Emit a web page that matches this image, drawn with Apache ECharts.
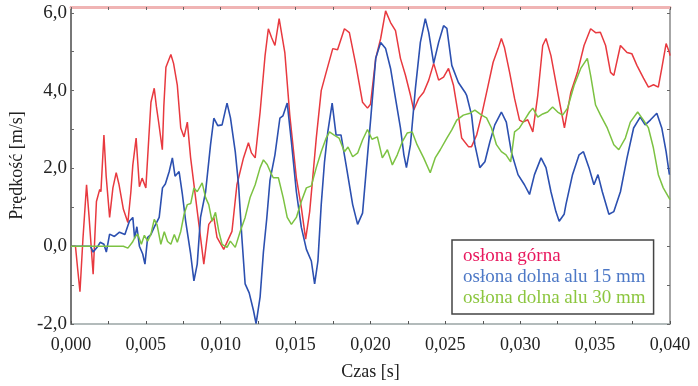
<!DOCTYPE html>
<html>
<head>
<meta charset="utf-8">
<script src="https://cdn.jsdelivr.net/npm/echarts@6/dist/echarts.min.js"></script>
<style>
html, body { margin: 0; padding: 0; background: #fff; }
#main { width: 698px; height: 386px; }
</style>
</head>
<body>
<div id="main"></div>
<script>
// czas w ms, prędkość w m/s
var gornaData = [
	[0,0],[0.3,0],[0.45,-0.6],[0.6,-1.17],[0.8,0.2],[1.04,1.58],[1.2,0.8],[1.48,-0.72],[1.6,0.3],[1.7,1.15],
	[1.92,1.46],[2.0,1.4],[2.2,2.86],[2.35,1.8],[2.58,0.74],[2.8,1.5],[3.02,1.89],[3.2,1.6],[3.5,0.95],[3.8,0.61],
	[4.0,1.4],[4.13,2.09],[4.35,2.78],[4.57,1.53],[4.75,1.75],[5.0,1.5],[5.2,2.8],[5.34,3.7],[5.56,4.06],[5.7,3.6],
	[5.85,3.2],[6.1,2.48],[6.2,3.6],[6.34,4.6],[6.67,4.93],[6.85,4.7],[7.1,4.14],[7.33,3.04],[7.55,2.81],[7.77,3.19],
	[7.99,2.27],[8.32,1.25],[8.65,0.23],[8.87,-0.46],[9.2,0.56],[9.54,0.74],[9.75,0.23],[10.2,-0.08],[10.75,0.38],[11.08,1.58],
	[11.52,2.27],[11.85,2.66],[12.05,2.4],[12.3,2.27],[12.63,3.45],[12.96,4.9],[13.18,5.59],[13.4,5.36],[13.62,5.16],[13.9,5.85],
	[14.28,4.98],[14.61,3.37],[15.05,1.76],[15.38,1.0],[15.67,0.18],[15.94,0.89],[16.38,2.78],[16.71,4.0],[17.04,4.47],[17.48,5.08],
	[17.8,5.05],[18.26,5.59],[18.59,5.49],[19.03,4.65],[19.47,3.7],[19.8,3.55],[20.0,3.65],[20.35,4.83],[20.68,5.34],[21.01,6.05],
	[21.34,5.75],[21.67,5.54],[22.0,4.83],[22.34,4.39],[22.67,3.88],[22.89,3.5],[23.22,3.8],[23.55,3.96],[23.89,4.27],[24.22,4.7],
	[24.55,4.27],[24.88,4.35],[25.21,4.57],[25.54,4.14],[25.87,3.37],[26.09,2.78],[26.54,2.56],[26.75,2.56],[27.09,2.86],[27.42,3.37],
	[27.86,4.14],[28.19,4.73],[28.52,5.08],[28.74,5.34],[28.95,5.1],[29.29,4.47],[29.62,3.8],[29.95,3.24],[30.18,3.19],[30.5,3.25],
	[30.84,2.94],[31.17,3.88],[31.5,5.16],[31.72,5.34],[32.05,4.9],[32.5,3.96],[32.83,3.29],[32.95,3.04],[33.38,3.96],[33.82,4.47],
	[34.26,5.16],[34.7,5.59],[35.03,5.49],[35.35,5.5],[35.7,5.16],[36.03,4.47],[36.25,4.39],[36.69,5.16],[37.13,4.98],[37.45,4.95],
	[37.79,4.65],[38.23,4.32],[38.56,4.09],[38.9,4.15],[39.22,4.09],[39.45,4.57],[39.74,5.21],[39.96,4.98],[40,4.9]
];

var dolna15Data = [
	[0,0],[1.3,0],[1.48,-0.15],[1.8,0],[1.95,0.1],[2.2,0.05],[2.36,-0.15],[2.58,0.31],[2.9,0.25],[3.24,0.36],
	[3.6,0.3],[3.9,0.64],[4.13,0.74],[4.25,0.2],[4.4,0.5],[4.57,0],[4.79,-0.2],[4.94,-0.46],[5.12,0.23],[5.34,0.3],
	[5.56,0.49],[5.89,0.74],[6.11,1.5],[6.3,1.6],[6.56,1.92],[6.77,2.27],[6.95,1.8],[7.22,1.92],[7.44,1.33],[7.66,0.64],
	[7.99,-0.2],[8.21,-0.89],[8.43,-0.46],[8.65,0.74],[8.99,1.4],[9.32,2.61],[9.54,3.29],[9.8,3.1],[10.09,3.12],[10.42,3.68],
	[10.65,3.3],[10.97,2.43],[11.19,1.58],[11.41,0.23],[11.63,-0.97],[11.9,-1.2],[12.19,-1.66],[12.36,-1.99],[12.63,-1.3],[12.85,-0.15],
	[13.07,0.7],[13.29,1.7],[13.62,2.35],[13.95,3.29],[14.15,3.35],[14.44,3.68],[14.72,2.68],[15.05,1.4],[15.38,0.49],[15.72,-0.08],
	[16.05,-0.38],[16.27,-0.97],[16.49,-0.38],[16.71,1.07],[16.93,2.17],[17.15,2.94],[17.44,3.68],[17.7,2.86],[18.03,2.86],[18.37,2.09],
	[18.81,1.07],[19.14,0.56],[19.47,0.85],[19.69,1.84],[20.02,3.3],[20.35,4.83],[20.68,5.24],[21.01,5.08],[21.34,4.57],[21.67,3.8],
	[22.0,3.04],[22.23,2.35],[22.4,2.02],[22.67,2.61],[23.0,4.06],[23.33,5.24],[23.66,5.85],[23.89,5.49],[24.22,4.7],[24.55,5.24],
	[24.88,5.67],[25.1,5.6],[25.43,4.65],[25.87,4.21],[26.31,3.96],[26.42,3.88],[26.75,3.37],[26.97,2.61],[27.3,2.02],[27.64,2.17],
	[27.97,2.68],[28.3,3.12],[28.74,3.45],[29.07,3.19],[29.4,2.43],[29.85,1.84],[30.28,1.58],[30.62,1.33],[30.95,1.84],[31.39,2.27],
	[31.72,2.02],[32.05,1.4],[32.38,0.89],[32.6,0.64],[32.93,0.82],[33.05,1.07],[33.49,1.84],[33.93,2.35],[34.22,2.43],[34.59,2.02],
	[34.92,1.58],[35.19,1.84],[35.48,1.4],[35.92,0.82],[36.25,0.89],[36.69,1.4],[37.13,2.27],[37.57,3.04],[38.01,3.32],[38.34,3.12],
	[38.7,3.25],[39.12,3.42],[39.45,3.04],[39.74,2.43],[39.96,1.84]
];

var dolna30Data = [
	[0,0],[3.5,0],[3.8,-0.05],[4.1,0.1],[4.3,0.25],[4.46,0.31],[4.7,0.05],[4.9,0.28],[5.12,0.13],[5.34,0.31],
	[5.56,0.69],[5.75,0.55],[6.0,0.05],[6.23,0.37],[6.45,0.12],[6.67,0.05],[6.9,0.3],[7.1,0.1],[7.33,0.38],[7.55,0.82],
	[7.77,1.07],[8.0,1.1],[8.21,1.5],[8.43,1.4],[8.76,1.63],[8.99,1.25],[9.2,1.07],[9.42,0.64],[9.65,0.87],[9.87,0.38],
	[10.09,0.05],[10.42,-0.03],[10.64,0.13],[10.97,-0.03],[11.3,0.38],[11.63,0.74],[11.96,1.25],[12.3,1.58],[12.63,2.02],[12.85,2.22],
	[13.1,2.1],[13.4,1.84],[13.51,1.76],[13.85,1.76],[14.17,1.25],[14.44,0.74],[14.72,0.56],[15.05,0.74],[15.38,1.15],[15.72,1.5],
	[16.05,1.55],[16.38,2.02],[16.71,2.43],[17.04,2.78],[17.26,2.94],[17.6,2.85],[17.9,2.78],[18.26,2.43],[18.5,2.55],[18.81,2.3],
	[19.15,2.4],[19.47,2.73],[19.8,3.0],[20.1,2.75],[20.46,2.81],[20.79,2.27],[21.13,2.48],[21.46,2.09],[21.79,2.35],[22.12,2.68],
	[22.45,2.91],[22.78,2.94],[23.11,2.61],[23.55,2.27],[23.99,1.89],[24.32,2.27],[24.66,2.48],[25.1,2.78],[25.43,2.99],[25.76,3.24],
	[26.2,3.37],[26.64,3.42],[26.97,3.5],[27.42,3.37],[27.75,3.3],[28.08,3.04],[28.41,2.61],[28.74,2.43],[29.05,2.35],[29.36,2.17],
	[29.62,2.94],[29.95,3.04],[30.28,3.24],[30.62,3.45],[30.84,3.55],[31.17,3.32],[31.5,3.4],[31.83,3.45],[32.16,3.58],[32.5,3.45],
	[32.83,3.37],[33.16,3.55],[33.6,4.14],[34.04,4.57],[34.48,4.83],[34.7,4.39],[35.03,3.63],[35.36,3.37],[35.81,3.04],[36.25,2.61],
	[36.58,2.48],[37.02,2.78],[37.35,3.19],[37.84,3.45],[38.23,3.24],[38.56,3.04],[38.89,2.53],[39.22,1.84],[39.55,1.5],[40,1.2]
];

var seriesNames = ['osłona górna', 'osłona dolna alu 15 mm', 'osłona dolna alu 30 mm'];
var lineColors = ['#e8393f', '#2c50b0', '#7cc242'];
var legendColors = ['#e8175d', '#4d78c6', '#8cc63f'];

var xLabels = [0, 0.005, 0.010, 0.015, 0.020, 0.025, 0.030, 0.035, 0.040];
var xTicks = [0, 0.0025, 0.005, 0.0075, 0.010, 0.0125, 0.015, 0.0175, 0.020, 0.0225, 0.025, 0.0275, 0.030, 0.0325, 0.035, 0.0375, 0.040];
var yLabels = [-2, 0, 2, 4, 6];
var yTicks = [-2, -1, 0, 1, 2, 3, 4, 5, 6];

function toSec(arr) {
	return arr.map(function (p) { return [p[0] / 1000, p[1]]; });
}

var font = 'Liberation Serif';

var myChart = echarts.init(document.getElementById('main'));
myChart.setOption({
	backgroundColor : '#fff',
	animation : false,
	textStyle : { fontFamily : font },
	grid : { left : 66, right : 28, top : 7, bottom : 60 },
	legend : {
		orient : 'vertical',
		left : 452,
		top : 240,
		padding : [6, 8, 6, 6],
		itemWidth : 0,
		itemHeight : 0,
		itemGap : 1,
		icon : 'rect',
		selectedMode : false,
		backgroundColor : '#fff',
		borderColor : '#444',
		borderWidth : 1.5,
		borderRadius : 0,
		textStyle : { fontFamily : font, fontSize : 19, lineHeight : 20 },
		data : seriesNames.map(function (n, i) {
			return { name : n, textStyle : { color : legendColors[i] } };
		})
	},
	xAxis : [ {
		type : 'value',
		min : 0,
		max : 0.04,
		name : 'Czas [s]',
		nameLocation : 'middle',
		nameGap : 39,
		nameTextStyle : { fontFamily : font, fontSize : 18, color : '#222' },
		axisLine : { onZero : false, lineStyle : { color : '#9aa5a5', width : 1.5 } },
		axisTick : { inside : true, length : 3, customValues : xTicks, lineStyle : { color : '#555' } },
		axisLabel : {
			customValues : xLabels,
			margin : 12,
			fontFamily : font,
			fontSize : 18,
			color : '#222',
			formatter : function (v) { return v.toFixed(3).replace('.', ','); }
		},
		splitLine : { show : false }
	}, {
		type : 'value',
		position : 'top',
		min : 0,
		max : 0.04,
		axisLine : { onZero : false, lineStyle : { color : '#f0b4b4', width : 3 } },
		axisTick : { inside : true, length : 3, customValues : xTicks, lineStyle : { color : '#666' } },
		axisLabel : { show : false },
		splitLine : { show : false }
	} ],
	yAxis : [ {
		type : 'value',
		min : -2,
		max : 6.15,
		name : 'Prędkość [m/s]',
		nameLocation : 'middle',
		nameGap : 41,
		nameTextStyle : { fontFamily : font, fontSize : 18, color : '#222' },
		axisLine : { show : true, onZero : false, lineStyle : { color : '#777', width : 2 } },
		axisTick : { show : true, inside : true, length : 3, customValues : yTicks, lineStyle : { color : '#666' } },
		axisLabel : {
			customValues : yLabels,
			margin : 4,
			fontFamily : font,
			fontSize : 19,
			color : '#222',
			formatter : function (v) { return v.toFixed(1).replace('.', ','); }
		},
		splitLine : { show : false }
	}, {
		type : 'value',
		position : 'right',
		min : -2,
		max : 6.15,
		axisLine : { show : true, onZero : false, lineStyle : { color : '#888', width : 1.5 } },
		axisTick : { show : true, inside : true, length : 3, customValues : yTicks, lineStyle : { color : '#666' } },
		axisLabel : { show : false },
		splitLine : { show : false }
	} ],
	series : [ {
		name : seriesNames[0],
		type : 'line',
		showSymbol : false,
		data : toSec(gornaData),
		lineStyle : { color : lineColors[0], width : 1.5 },
		itemStyle : { color : lineColors[0] }
	}, {
		name : seriesNames[1],
		type : 'line',
		showSymbol : false,
		data : toSec(dolna15Data),
		lineStyle : { color : lineColors[1], width : 1.6 },
		itemStyle : { color : lineColors[1] }
	}, {
		name : seriesNames[2],
		type : 'line',
		showSymbol : false,
		data : toSec(dolna30Data),
		lineStyle : { color : lineColors[2], width : 1.5 },
		itemStyle : { color : lineColors[2] }
	} ]
});
</script>
</body>
</html>
